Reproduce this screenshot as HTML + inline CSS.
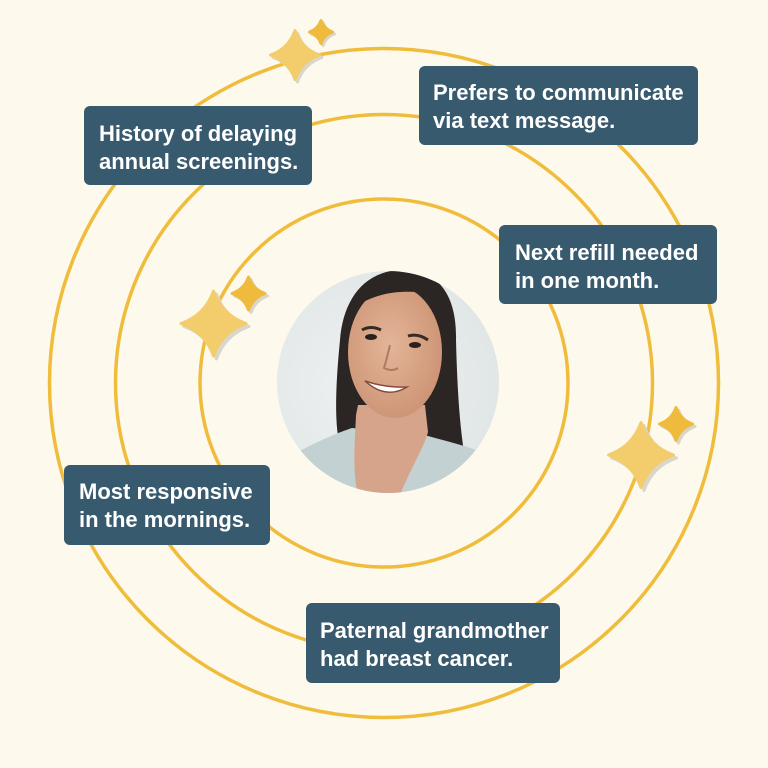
<!DOCTYPE html>
<html><head><meta charset="utf-8"><style>
html,body{margin:0;padding:0;background:#fdf9ed;}
svg{display:block;}
text{font-family:"Liberation Sans",sans-serif;font-weight:bold;font-size:22px;fill:#ffffff;}
.st{vector-effect:non-scaling-stroke;stroke-width:3;stroke-linejoin:round;}
</style></head><body>
<svg width="768" height="768" viewBox="0 0 768 768" xmlns="http://www.w3.org/2000/svg">
<defs>
<clipPath id="pc"><circle cx="388" cy="382" r="111"/></clipPath>
<radialGradient id="bg" cx="0.4" cy="0.5" r="0.7"><stop offset="0" stop-color="#eef1f1"/><stop offset="1" stop-color="#dde3e4"/></radialGradient>
<radialGradient id="skin" cx="0.45" cy="0.45" r="0.6"><stop offset="0" stop-color="#e4b598"/><stop offset="1" stop-color="#cc9374"/></radialGradient>
<path id="s" d="M0,-1 Q0.26,-0.26 1,0 Q0.26,0.26 0,1 Q-0.26,0.26 -1,0 Q-0.26,-0.26 0,-1Z"/>
</defs>
<rect width="768" height="768" fill="#fdf9ed"/>
<g fill="none" stroke="#f0bc3b" stroke-width="3.5">
<circle cx="384" cy="383" r="334.5"/>
<circle cx="384" cy="383" r="268.5"/>
<circle cx="384" cy="383" r="184"/>
</g>
<!-- photo -->
<g clip-path="url(#pc)">
<rect x="270" y="265" width="240" height="240" fill="url(#bg)"/>
<path d="M403,270 C442,270 457,300 456,340 C457,380 459,420 464,452 L440,457 L342,452 C333,430 336,380 340,340 C343,300 364,270 403,270Z" fill="#2b2623"/>
<path d="M298,452 C320,440 340,432 352,428 L428,436 C450,442 470,447 487,454 L500,500 L290,500Z" fill="#c3d1d3"/>
<path d="M356,415 C355,440 352,470 358,495 L400,495 C410,470 425,445 428,432 L425,405 L358,405Z" fill="#d6a48a"/>
<ellipse cx="395" cy="352" rx="47" ry="66" fill="url(#skin)"/>
<path d="M352,300 C370,282 420,280 445,300 C430,290 380,285 352,310Z" fill="#2b2623"/>
<path d="M362,330 Q371,325 381,330" stroke="#3a2a22" stroke-width="3" fill="none"/>
<path d="M408,336 Q418,333 428,340" stroke="#3a2a22" stroke-width="3" fill="none"/>
<ellipse cx="371" cy="337" rx="6" ry="3" fill="#2a201c"/>
<ellipse cx="415" cy="345" rx="6" ry="3" fill="#2a201c"/>
<path d="M365,381 Q386,400 407,387 Q386,388 365,381Z" fill="#ffffff" stroke="#8a4a3a" stroke-width="1.5"/>
<path d="M390,345 Q386,362 384,368 Q392,372 398,368" stroke="#b07a60" stroke-width="2" fill="none"/>
</g>
<!-- stars -->
<g fill="#d9d6cc" stroke="#d9d6cc">
<path class="st" transform="translate(297.5,57.5) scale(24.5)" d="M0,-1 Q0.26,-0.26 1,0 Q0.26,0.26 0,1 Q-0.26,0.26 -1,0 Q-0.26,-0.26 0,-1Z"/>
<path class="st" transform="translate(323,34) scale(11.5)" d="M0,-1 Q0.26,-0.26 1,0 Q0.26,0.26 0,1 Q-0.26,0.26 -1,0 Q-0.26,-0.26 0,-1Z"/>
<path class="st" transform="translate(216.5,326.5) scale(32.5)" d="M0,-1 Q0.26,-0.26 1,0 Q0.26,0.26 0,1 Q-0.26,0.26 -1,0 Q-0.26,-0.26 0,-1Z"/>
<path class="st" transform="translate(251,296) scale(16.5)" d="M0,-1 Q0.26,-0.26 1,0 Q0.26,0.26 0,1 Q-0.26,0.26 -1,0 Q-0.26,-0.26 0,-1Z"/>
<path class="st" transform="translate(644,458) scale(32.5)" d="M0,-1 Q0.26,-0.26 1,0 Q0.26,0.26 0,1 Q-0.26,0.26 -1,0 Q-0.26,-0.26 0,-1Z"/>
<path class="st" transform="translate(678.5,426.5) scale(16.5)" d="M0,-1 Q0.26,-0.26 1,0 Q0.26,0.26 0,1 Q-0.26,0.26 -1,0 Q-0.26,-0.26 0,-1Z"/>
</g>
<g fill="#f3cd6c" stroke="#f3cd6c">
<path class="st" transform="translate(295,55) scale(24.5)" d="M0,-1 Q0.26,-0.26 1,0 Q0.26,0.26 0,1 Q-0.26,0.26 -1,0 Q-0.26,-0.26 0,-1Z"/>
<path class="st" transform="translate(213.5,323.5) scale(32.5)" d="M0,-1 Q0.26,-0.26 1,0 Q0.26,0.26 0,1 Q-0.26,0.26 -1,0 Q-0.26,-0.26 0,-1Z"/>
<path class="st" transform="translate(641,455) scale(32.5)" d="M0,-1 Q0.26,-0.26 1,0 Q0.26,0.26 0,1 Q-0.26,0.26 -1,0 Q-0.26,-0.26 0,-1Z"/>
</g>
<g fill="#efbb3c" stroke="#efbb3c">
<path class="st" transform="translate(321,32) scale(11.5)" d="M0,-1 Q0.26,-0.26 1,0 Q0.26,0.26 0,1 Q-0.26,0.26 -1,0 Q-0.26,-0.26 0,-1Z"/>
<path class="st" transform="translate(248.5,293.5) scale(16.5)" d="M0,-1 Q0.26,-0.26 1,0 Q0.26,0.26 0,1 Q-0.26,0.26 -1,0 Q-0.26,-0.26 0,-1Z"/>
<path class="st" transform="translate(676,424) scale(16.5)" d="M0,-1 Q0.26,-0.26 1,0 Q0.26,0.26 0,1 Q-0.26,0.26 -1,0 Q-0.26,-0.26 0,-1Z"/>
</g>
<!-- boxes -->
<g fill="#385a6e">
<rect x="84" y="106" width="228" height="79" rx="6"/>
<rect x="419" y="66" width="279" height="79" rx="6"/>
<rect x="499" y="225" width="218" height="79" rx="6"/>
<rect x="64" y="465" width="206" height="80" rx="6"/>
<rect x="306" y="603" width="254" height="80" rx="6"/>
</g>
<text x="99" y="141">History of delaying</text>
<text x="99" y="169">annual screenings.</text>
<text x="433" y="100">Prefers to communicate</text>
<text x="433" y="128">via text message.</text>
<text x="515" y="260">Next refill needed</text>
<text x="515" y="288">in one month.</text>
<text x="79" y="499">Most responsive</text>
<text x="79" y="527">in the mornings.</text>
<text x="320" y="638">Paternal grandmother</text>
<text x="320" y="666">had breast cancer.</text>
</svg>
</body></html>
